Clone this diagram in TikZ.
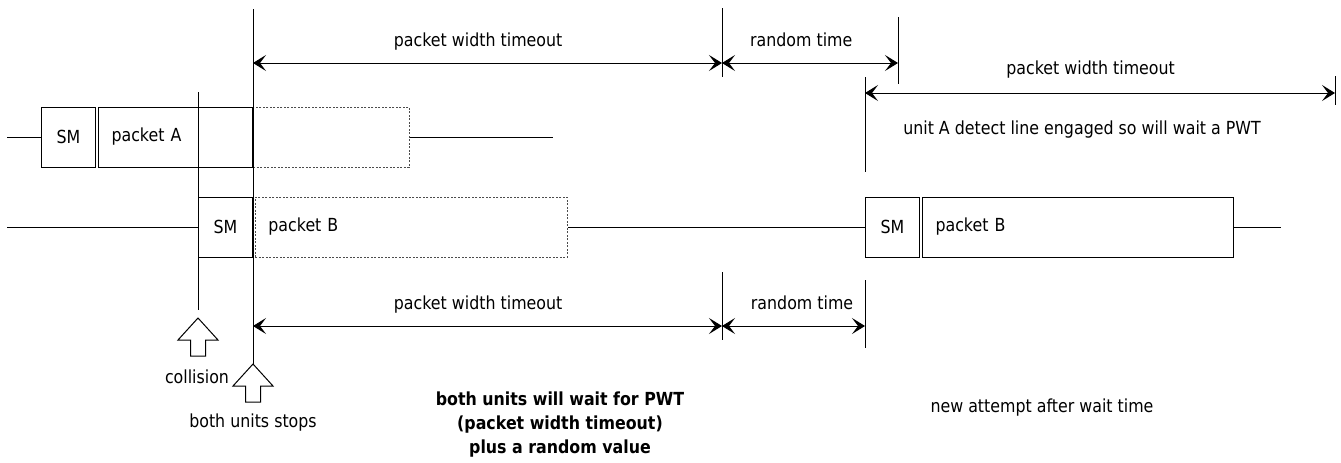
\documentclass[tikz,border=0pt]{standalone}
\usepackage{fontspec}
\setmainfont{DejaVu Sans}[FakeStretch=0.88]
\usetikzlibrary{arrows.meta,positioning}

\begin{document}
\begin{tikzpicture}[x=1pt, y=-1pt,
        every node/.style={font=\fontsize{18}{24}\selectfont},
        line/.style={line width=1pt},
        dim/.style={{Stealth[length=13pt,width=16pt,inset=6pt]}-{Stealth[length=13pt,width=16pt,inset=6pt]}, line width=1pt},
        smbox/.style={draw, line width=1pt, minimum width=54pt, minimum height=60pt, inner sep=0pt},
        pktbox/.style={draw, line width=1pt, minimum height=60pt, inner xsep=13pt, inner ysep=0pt, align=left},
        ghost/.style={draw=black!70, line width=.8pt, dash pattern=on 2pt off 1.5pt},
        lbl/.style={inner sep=0pt, text height=13.5pt, text depth=4.5pt},
        blockup/.pic={\draw[line width=1pt, fill=white] (0,0) -- (20,22) -- (7.5,22) -- (7.5,38) -- (-7.5,38) -- (-7.5,22) -- (-20,22) -- cycle;}]
        \useasboundingbox (0,0) rectangle (1341,463);

        % unit A
        \coordinate (a0) at (7,137);
        \node[smbox, anchor=west] (smA) at (41,137) {SM};
        \node[pktbox, text width=128pt, right=2pt of smA] (pktA) {packet A};
        \node[ghost, minimum width=156pt, minimum height=60pt, right=0pt of pktA] (ghostA) {};
        \coordinate (a1) at (553,137);
        \draw[line] (a0) -- (smA) (ghostA) -- (a1);

        % unit B
        \coordinate (b0) at (7,227);
        \node[smbox, anchor=west] (smB) at (198,227) {SM};
        \node[pktbox, ghost, text width=286pt, right=2pt of smB] (pktB) {packet B};
        \node[smbox, anchor=west] (smC) at (865,227) {SM};
        \node[pktbox, text width=285pt, right=2pt of smC] (pktC) {packet B};
        \coordinate (c1) at (1281,227);
        \draw[line] (b0) -- (smB) (pktB) -- (smC) (pktC) -- (c1);

        % time marks
        \coordinate (m0t) at (198,92);  \coordinate (m0b) at (198,310);
        \coordinate (m1t) at (253,9);   \coordinate (m1b) at (253,364);
        \coordinate (m2t) at (722,8);   \coordinate (m2b) at (722,77);
        \coordinate (m3t) at (898,17);  \coordinate (m3b) at (898,84);
        \coordinate (m4t) at (865,77);  \coordinate (m4b) at (865,172);
        \coordinate (m5t) at (1335,76); \coordinate (m5b) at (1335,105);
        \coordinate (m6t) at (722,272); \coordinate (m6b) at (722,340);
        \coordinate (m7t) at (865,280); \coordinate (m7b) at (865,348);
        \draw[line] (m0t) -- (m0b) (m1t) -- (m1b) (m2t) -- (m2b) (m3t) -- (m3b)
            (m4t) -- (m4b) (m5t) -- (m5b) (m6t) -- (m6b) (m7t) -- (m7b);

        \coordinate (p1) at (253,63); \coordinate (p2) at (722,63); \coordinate (p3) at (898,63);
        \coordinate (q1) at (865,93); \coordinate (q2) at (1335,93);
        \coordinate (r1) at (253,326); \coordinate (r2) at (722,326); \coordinate (r3) at (865,326);

        \path[dim]
        (p1)edge node[lbl, pos=.48, above=12pt]{packet width timeout}(p2)
        (p2)edge node[lbl, pos=.45, above=12pt]{random time}(p3)
        (q1)edge node[lbl, pos=.48, above=14pt]{packet width timeout}(q2)
        (r1)edge node[lbl, pos=.48, above=12pt]{packet width timeout}(r2)
        (r2)edge node[lbl, pos=.56, above=12pt]{random time}(r3)
        ;

        \pic at (198,318) {blockup};
        \pic at (m1b) {blockup};

        \node[lbl] (detect) at (1082,130) {unit A detect line engaged so will wait a PWT};
        \node[lbl] (collision) at (197,379) {collision};
        \node[lbl] (stops) at (253,423) {both units stops};
        \node[font=\fontsize{18}{24}\selectfont\bfseries, align=center] (waitnote) at (560,425)
            {both units will wait for PWT\\(packet width timeout)\\plus a random value};
        \node[lbl] (retry) at (1042,408) {new attempt after wait time};
    \end{tikzpicture}
\end{document}
